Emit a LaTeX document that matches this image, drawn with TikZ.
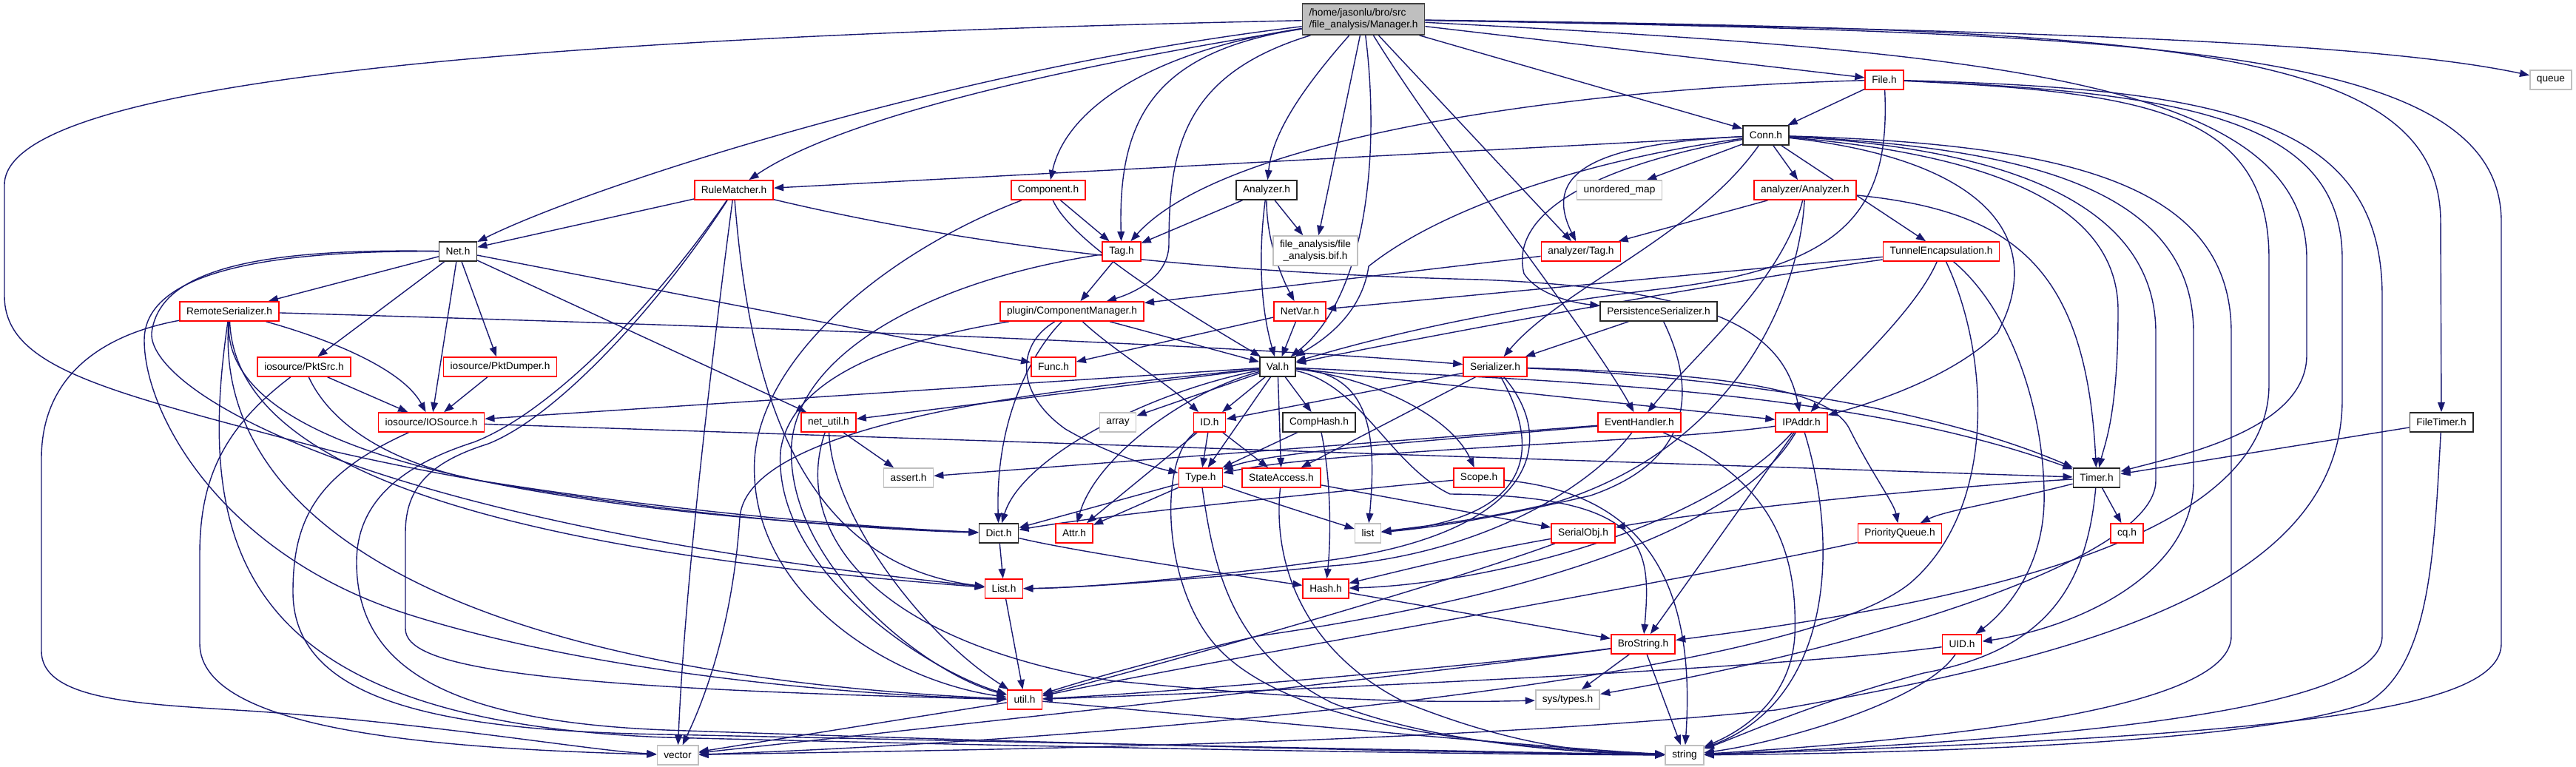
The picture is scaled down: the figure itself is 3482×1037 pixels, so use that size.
\documentclass[tikz,border=0pt]{standalone}
\usepackage{fontspec}
\setmainfont{Liberation Sans}
\usetikzlibrary{arrows.meta,backgrounds}
\definecolor{depblue}{HTML}{191970}
\definecolor{sysgray}{HTML}{BFBFBF}
\definecolor{rootbd}{HTML}{404040}

\begin{document}
\begin{tikzpicture}[x=0.02cm, y=-0.02cm,
  inc/.style={draw=black!85, fill=white, line width=0.95pt, inner xsep=0.18cm, inner ysep=0pt,
    minimum height=0.52cm, font=\fontsize{7.8}{8.9}\selectfont},
  redinc/.style={inc, draw=red},
  sysinc/.style={inc, draw=sysgray},
  rootinc/.style={inc, fill=sysgray, draw=rootbd, align=left, minimum height=0.84cm},
  dep/.style={draw=depblue, line width=0.8pt, -{Triangle[length=7.5pt,width=5.5pt]}}]

  \useasboundingbox (0,0) rectangle (3482,1037);

  % ---- headers, row by row ----
  \node[rootinc] (mgr) at (1843,26) {/home/jasonlu/bro/src\\/file\_analysis/Manager.h};
  \node[sysinc] (queue) at (3448,108) {queue};
  \node[redinc] (file) at (2547,108) {File.h};
  \node[inc] (conn) at (2387,183) {Conn.h};
  \node[redinc] (rulem) at (992,257) {RuleMatcher.h};
  \node[redinc] (comp) at (1417,257) {Component.h};
  \node[inc] (anlz) at (1712,257) {Analyzer.h};
  \node[sysinc] (umap) at (2189,257) {unordered\_map};
  \node[redinc] (aanlz) at (2440,257) {analyzer/Analyzer.h};
  \node[inc] (net) at (619,340) {Net.h};
  \node[redinc] (tag) at (1516,340) {Tag.h};
  \node[sysinc, align=center, minimum height=0.8cm] (bif) at (1778,339) {file\_analysis/file\\\_analysis.bif.h};
  \node[redinc] (atag) at (2137,340) {analyzer/Tag.h};
  \node[redinc] (tunnel) at (2624,340) {TunnelEncapsulation.h};
  \node[redinc] (remser) at (310,421) {RemoteSerializer.h};
  \node[redinc] (cmgr) at (1449,421) {plugin/ComponentManager.h};
  \node[redinc] (netvar) at (1757,421) {NetVar.h};
  \node[inc] (perser) at (2242,421) {PersistenceSerializer.h};
  \node[redinc] (pktsrc) at (411,496) {iosource/PktSrc.h};
  \node[redinc] (pktdmp) at (676,496) {iosource/PktDumper.h};
  \node[redinc] (func) at (1424,496) {Func.h};
  \node[inc] (val) at (1727,496) {Val.h};
  \node[redinc] (ser) at (2021,496) {Serializer.h};
  \node[redinc] (iosrc) at (583,571) {iosource/IOSource.h};
  \node[redinc] (netutil) at (1120,571) {net\_util.h};
  \node[sysinc] (array) at (1511,571) {array};
  \node[redinc] (id) at (1635,571) {ID.h};
  \node[inc] (comphash) at (1783,571) {CompHash.h};
  \node[redinc] (evh) at (2216,571) {EventHandler.h};
  \node[redinc] (ipaddr) at (2435,571) {IPAddr.h};
  \node[inc] (ftimer) at (3300,571) {FileTimer.h};
  \node[sysinc] (assert) at (1228,646) {assert.h};
  \node[redinc] (type) at (1623,646) {Type.h};
  \node[redinc] (stacc) at (1732,646) {StateAccess.h};
  \node[redinc] (scope) at (1999,646) {Scope.h};
  \node[inc] (timer) at (2834,646) {Timer.h};
  \node[inc] (dict) at (1350,721) {Dict.h};
  \node[redinc] (attr) at (1452,721) {Attr.h};
  \node[sysinc] (lstd) at (1849,721) {list};
  \node[redinc] (serobj) at (2140,721) {SerialObj.h};
  \node[redinc] (pq) at (2568,721) {PriorityQueue.h};
  \node[redinc] (cq) at (2875,721) {cq.h};
  \node[redinc] (listh) at (1357,796) {List.h};
  \node[redinc] (hash) at (1792,796) {Hash.h};
  \node[redinc] (brostr) at (2221,871) {BroString.h};
  \node[redinc] (uid) at (2652,871) {UID.h};
  \node[redinc] (util) at (1385,946) {util.h};
  \node[sysinc] (systypes) at (2119,946) {sys/types.h};
  \node[sysinc] (vector) at (916,1021) {vector};
  \node[sysinc] (string) at (2277,1021) {string};

  \begin{scope}[on background layer]
  % ---- Manager.h ----
  \draw[dep] (mgr) .. controls (2700,40) and (3200,55) .. (queue);
  \draw[dep] (mgr) -- (file);
  \draw[dep] (mgr) -- (conn);
  \draw[dep] (mgr) .. controls (2900,45) and (3381,60) .. (3381,300) -- (3381,870) .. controls (3381,960) and (3100,995) .. (string);
  \draw[dep] (mgr) .. controls (2900,40) and (3299,55) .. (3299,300) -- (ftimer);
  \draw[dep] (mgr) .. controls (2700,70) and (3118,110) .. (3118,350) -- (3118,480) .. controls (3118,580) and (2950,615) .. (timer);
  \draw[dep] (mgr) .. controls (1500,80) and (1150,150) .. (rulem);
  \draw[dep] (mgr) .. controls (1300,90) and (800,250) .. (net);
  \draw[dep] (mgr) .. controls (1550,70) and (1440,150) .. (comp);
  \draw[dep] (mgr) .. controls (1560,70) and (1511,160) .. (tag);
  \draw[dep] (mgr) .. controls (1600,100) and (1580,200) .. (1580,330) .. controls (1580,380) and (1520,400) .. (cmgr);
  \draw[dep] (mgr) .. controls (1760,120) and (1720,180) .. (anlz);
  \draw[dep] (mgr) -- (bif);
  \draw[dep] (mgr) .. controls (1865,200) and (1850,400) .. (val);
  \draw[dep] (mgr) -- (atag);
  \draw[dep] (mgr) .. controls (1950,200) and (2150,450) .. (evh);
  \draw[dep] (mgr) .. controls (700,50) and (6,110) .. (6,250) -- (6,400) .. controls (6,500) and (150,530) .. (450,610) .. controls (800,690) and (1150,715) .. (dict);

  % ---- File.h ----
  \draw[dep] (file) -- (conn);
  \draw[dep] (file) .. controls (2100,120) and (1650,190) .. (tag);
  \draw[dep] (file) .. controls (2555,280) and (2500,360) .. (2250,390) .. controls (2000,420) and (1850,460) .. (val);
  \draw[dep] (file) .. controls (2900,125) and (3067,150) .. (3067,350) -- (3067,520) .. controls (3067,720) and (2700,810) .. (brostr);
  \draw[dep] (file) .. controls (2950,125) and (3166,160) .. (3166,350) -- (3166,540) .. controls (3166,800) and (2800,890) .. (2400,960) .. controls (1900,1010) and (1200,1015) .. (vector);
  \draw[dep] (file) .. controls (3000,120) and (3220,160) .. (3220,400) -- (3220,860) .. controls (3220,960) and (2800,1000) .. (string);

  % ---- Conn.h ----
  \draw[dep] (conn) -- (rulem);
  \draw[dep] (conn) -- (umap);
  \draw[dep] (conn) -- (aanlz);
  \draw[dep] (conn) .. controls (2150,195) and (2085,235) .. (atag);
  \draw[dep] (conn) -- (tunnel);
  \draw[dep] (conn) .. controls (2150,225) and (2040,290) .. (2060,370) .. controls (2080,400) and (2130,410) .. (perser);
  \draw[dep] (conn) .. controls (2290,320) and (2110,390) .. (ser);
  \draw[dep] (conn) .. controls (2150,215) and (1950,280) .. (1850,360) .. controls (1840,430) and (1780,465) .. (val);
  \draw[dep] (conn) .. controls (2680,215) and (2770,320) .. (2700,450) .. controls (2640,510) and (2530,545) .. (ipaddr);
  \draw[dep] (conn) .. controls (2700,210) and (2863,280) .. (2863,420) .. controls (2863,560) and (2845,600) .. (timer);
  \draw[dep] (conn) .. controls (2700,200) and (2914,270) .. (2914,450) -- (2914,650) .. controls (2914,760) and (2500,880) .. (systypes);
  \draw[dep] (conn) .. controls (2750,200) and (2965,260) .. (2965,450) -- (2965,650) .. controls (2965,780) and (2800,850) .. (uid);
  \draw[dep] (conn) .. controls (2800,195) and (3016,250) .. (3016,450) -- (3016,860) .. controls (3016,950) and (2700,995) .. (string);

  % ---- RuleMatcher.h ----
  \draw[dep] (rulem) -- (net);
  \draw[dep] (rulem) .. controls (1300,330) and (1600,368) .. (2000,378) .. controls (2300,390) and (2410,440) .. (ipaddr);
  \draw[dep] (rulem) .. controls (960,500) and (925,800) .. (vector);
  \draw[dep] (rulem) .. controls (1010,480) and (1060,760) .. (listh);
  \draw[dep] (rulem) .. controls (880,420) and (740,560) .. (640,598) .. controls (540,630) and (482,680) .. (482,760) .. controls (482,900) and (600,975) .. (900,987) .. controls (1500,1008) and (2000,1018) .. (string);
  \draw[dep] (rulem) .. controls (900,400) and (760,560) .. (660,600) .. controls (580,625) and (548,660) .. (548,720) -- (548,850) .. controls (548,900) and (700,930) .. (util);

  % ---- Component.h, Analyzer.h, Tag.h ----
  \draw[dep] (comp) -- (tag);
  \draw[dep] (comp) .. controls (1450,330) and (1600,420) .. (val);
  \draw[dep] (comp) .. controls (1200,340) and (1030,480) .. (1020,620) .. controls (1010,800) and (1200,920) .. (util);
  \draw[dep] (anlz) -- (tag);
  \draw[dep] (anlz) -- (bif);
  \draw[dep] (anlz) .. controls (1700,350) and (1705,420) .. (val);
  \draw[dep] (anlz) .. controls (1712,330) and (1735,380) .. (netvar);
  \draw[dep] (tag) -- (cmgr);
  \draw[dep] (tag) .. controls (1250,380) and (1080,480) .. (1070,600) .. controls (1060,760) and (1250,910) .. (util);

  % ---- Net.h and the iosource headers ----
  \draw[dep] (net) -- (remser);
  \draw[dep] (net) -- (pktsrc);
  \draw[dep] (net) -- (pktdmp);
  \draw[dep] (net) -- (iosrc);
  \draw[dep] (net) -- (netutil);
  \draw[dep] (net) -- (func);
  \draw[dep] (net) .. controls (320,338) and (195,380) .. (195,460) .. controls (195,560) and (300,750) .. (550,830) .. controls (800,910) and (1150,940) .. (util);
  \draw[dep] (net) .. controls (330,335) and (215,370) .. (205,450) .. controls (200,520) and (450,700) .. (listh);
  \draw[dep] (remser) .. controls (900,438) and (1600,462) .. (ser);
  \draw[dep] (remser) .. controls (450,460) and (545,500) .. (iosrc);
  \draw[dep] (remser) .. controls (300,600) and (650,690) .. (dict);
  \draw[dep] (remser) .. controls (318,620) and (620,740) .. (listh);
  \draw[dep] (remser) .. controls (290,700) and (600,910) .. (util);
  \draw[dep] (remser) .. controls (262,750) and (330,975) .. (900,997) .. controls (1500,1012) and (2000,1020) .. (string);
  \draw[dep] (remser) .. controls (150,450) and (56,500) .. (56,620) -- (56,880) .. controls (56,950) and (200,952) .. (350,962) .. controls (600,980) and (800,1015) .. (vector);
  \draw[dep] (pktsrc) -- (iosrc);
  \draw[dep] (pktsrc) .. controls (445,570) and (520,625) .. (650,650) .. controls (900,690) and (1150,712) .. (dict);
  \draw[dep] (pktsrc) .. controls (300,580) and (270,650) .. (270,750) -- (270,870) .. controls (270,990) and (600,1012) .. (vector);
  \draw[dep] (pktdmp) -- (iosrc);
  \draw[dep] (iosrc) -- (timer);
  \draw[dep] (iosrc) .. controls (430,640) and (396,700) .. (396,800) .. controls (396,950) and (600,988) .. (900,993) .. controls (1500,1006) and (2000,1016) .. (string);

  % ---- middle rows ----
  \draw[dep] (atag) -- (cmgr);
  \draw[dep] (cmgr) -- (val);
  \draw[dep] (cmgr) .. controls (1500,470) and (1580,520) .. (id);
  \draw[dep] (cmgr) .. controls (1375,465) and (1370,530) .. (1440,580) .. controls (1500,615) and (1560,632) .. (type);
  \draw[dep] (cmgr) .. controls (1400,470) and (1345,560) .. (dict);
  \draw[dep] (cmgr) .. controls (1240,455) and (1070,500) .. (1055,610) .. controls (1045,770) and (1250,905) .. (util);
  \draw[dep] (netvar) -- (func);
  \draw[dep] (netvar) -- (val);
  \draw[dep] (perser) -- (ser);
  \draw[dep] (perser) .. controls (2290,520) and (2295,620) .. (2150,670) .. controls (2000,705) and (1920,715) .. (lstd);
  \draw[dep] (aanlz) -- (atag);
  \draw[dep] (aanlz) .. controls (2720,285) and (2820,360) .. (timer);
  \draw[dep] (aanlz) .. controls (2410,380) and (2290,480) .. (evh);
  \draw[dep] (aanlz) .. controls (2430,420) and (2330,610) .. (2100,680) .. controls (1990,705) and (1920,712) .. (lstd);
  \draw[dep] (tunnel) -- (netvar);
  \draw[dep] (tunnel) .. controls (2300,385) and (1900,460) .. (val);
  \draw[dep] (tunnel) .. controls (2590,420) and (2490,510) .. (ipaddr);
  \draw[dep] (tunnel) .. controls (2720,420) and (2765,560) .. (2763,680) .. controls (2760,780) and (2700,835) .. (uid);
  \draw[dep] (tunnel) .. controls (2690,480) and (2700,690) .. (2580,790) .. controls (2400,930) and (1400,1005) .. (vector);

  % ---- Serializer.h ----
  \draw[dep] (ser) -- (id);
  \draw[dep] (ser) -- (stacc);
  \draw[dep] (ser) .. controls (2085,610) and (2070,700) .. (lstd);
  \draw[dep] (ser) .. controls (2110,600) and (2070,720) .. (1800,757) .. controls (1600,785) and (1450,795) .. (listh);
  \draw[dep] (ser) .. controls (2300,508) and (2600,545) .. (timer);
  \draw[dep] (ser) .. controls (2300,505) and (2470,520) .. (2500,580) .. controls (2530,640) and (2560,680) .. (pq);

  % ---- Val.h ----
  \draw[dep] (val) -- (iosrc);
  \draw[dep] (val) -- (netutil);
  \draw[dep] (val) -- (array);
  \draw[dep] (val) -- (id);
  \draw[dep] (val) -- (comphash);
  \draw[dep] (val) -- (type);
  \draw[dep] (val) -- (stacc);
  \draw[dep] (val) .. controls (1850,510) and (1960,560) .. (scope);
  \draw[dep] (val) .. controls (1850,505) and (1862,580) .. (lstd);
  \draw[dep] (val) .. controls (1550,530) and (1380,620) .. (dict);
  \draw[dep] (val) .. controls (1600,530) and (1480,620) .. (attr);
  \draw[dep] (val) .. controls (1840,520) and (1880,630) .. (1960,668) .. controls (2230,670) and (2232,740) .. (brostr);
  \draw[dep] (val) -- (ipaddr);
  \draw[dep] (val) .. controls (2100,515) and (2500,525) .. (timer);
  \draw[dep] (val) .. controls (1500,520) and (1010,560) .. (1000,700) .. controls (990,850) and (950,950) .. (vector);

  % ---- ID.h, CompHash.h, EventHandler.h, IPAddr.h ----
  \draw[dep] (id) -- (type);
  \draw[dep] (id) -- (stacc);
  \draw[dep] (id) -- (attr);
  \draw[dep] (id) .. controls (1565,620) and (1570,800) .. (1650,880) .. controls (1750,980) and (2000,1010) .. (string);
  \draw[dep] (comphash) -- (type);
  \draw[dep] (comphash) .. controls (1798,640) and (1800,720) .. (hash);
  \draw[dep] (evh) -- (assert);
  \draw[dep] (evh) .. controls (1950,595) and (1720,610) .. (type);
  \draw[dep] (evh) .. controls (2150,660) and (2000,750) .. (1800,765) .. controls (1600,785) and (1450,795) .. (listh);
  \draw[dep] (evh) .. controls (2400,650) and (2430,750) .. (2426,860) .. controls (2420,950) and (2350,990) .. (string);
  \draw[dep] (ipaddr) .. controls (2250,598) and (1800,608) .. (type);
  \draw[dep] (ipaddr) -- (brostr);
  \draw[dep] (ipaddr) .. controls (2490,750) and (2470,950) .. (string);
  \draw[dep] (ipaddr) .. controls (2300,720) and (2000,790) .. (hash);
  \draw[dep] (ipaddr) .. controls (2350,720) and (2050,810) .. (1700,860) .. controls (1550,895) and (1450,925) .. (util);

  % ---- lower rows ----
  \draw[dep] (netutil) -- (assert);
  \draw[dep] (netutil) .. controls (1125,700) and (1250,860) .. (util);
  \draw[dep] (netutil) .. controls (1075,700) and (1150,860) .. (1500,920) .. controls (1800,950) and (1950,950) .. (systypes);
  \draw[dep] (type) -- (dict);
  \draw[dep] (type) -- (attr);
  \draw[dep] (type) .. controls (1720,680) and (1800,705) .. (lstd);
  \draw[dep] (type) .. controls (1640,760) and (1660,880) .. (1800,950) .. controls (1950,1010) and (2150,1018) .. (string);
  \draw[dep] (stacc) -- (serobj);
  \draw[dep] (stacc) .. controls (1720,760) and (1760,880) .. (1900,950) .. controls (2050,1010) and (2150,1018) .. (string);
  \draw[dep] (scope) .. controls (1800,665) and (1500,695) .. (dict);
  \draw[dep] (scope) .. controls (2200,665) and (2295,760) .. (string);
  \draw[dep] (timer) .. controls (2600,660) and (2300,692) .. (serobj);
  \draw[dep] (timer) .. controls (2700,680) and (2630,690) .. (pq);
  \draw[dep] (timer) -- (cq);
  \draw[dep] (timer) .. controls (2820,800) and (2760,880) .. (2600,910) .. controls (2450,950) and (2340,1000) .. (string);
  \draw[dep] (ftimer) -- (timer);
  \draw[dep] (ftimer) .. controls (3290,750) and (3285,900) .. (3200,950) .. controls (3050,1005) and (2600,1018) .. (string);
  \draw[dep] (dict) -- (listh);
  \draw[dep] (dict) .. controls (1450,745) and (1650,775) .. (hash);
  \draw[dep] (serobj) .. controls (2000,745) and (1900,770) .. (hash);
  \draw[dep] (serobj) .. controls (1950,790) and (1600,890) .. (util);
  \draw[dep] (pq) .. controls (2250,790) and (1650,890) .. (util);
  \draw[dep] (listh) -- (util);
  \draw[dep] (hash) -- (brostr);
  \draw[dep] (brostr) -- (systypes);
  \draw[dep] (brostr) -- (string);
  \draw[dep] (brostr) .. controls (2000,900) and (1600,935) .. (util);
  \draw[dep] (brostr) .. controls (1900,915) and (1200,990) .. (vector);
  \draw[dep] (uid) .. controls (2600,950) and (2400,1005) .. (string);
  \draw[dep] (uid) .. controls (2400,905) and (1700,935) .. (util);
  \draw[dep] (util) -- (vector);
  \draw[dep] (util) .. controls (1700,975) and (2100,1012) .. (string);
  \end{scope}

\end{tikzpicture}
\end{document}
